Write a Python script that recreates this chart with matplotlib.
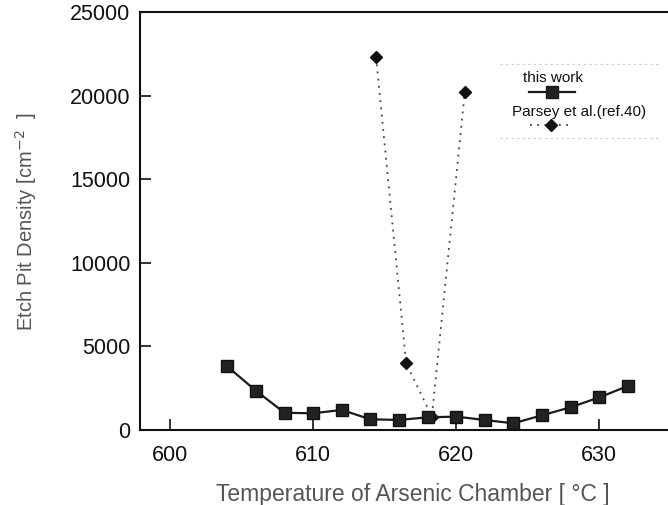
import matplotlib.pyplot as plt

plt.rcParams['font.family'] = ['Liberation Sans', 'DejaVu Sans']

# this work
temp_this = [604, 606, 608, 610, 612, 614, 616, 618, 620, 622, 624, 626, 628, 630, 632]
epd_this = [3800, 2350, 1030, 1000, 1200, 640, 600, 760, 800, 600, 400, 880, 1360, 1950, 2630]

# Parsey et al. (ref.40)
temp_parsey = [614.4, 616.5, 618.3, 620.6]
epd_parsey = [22300, 4000, 800, 20200]

fig = plt.figure(figsize=(6.68, 5.05), dpi=100)
ax = fig.add_axes([0.2096, 0.1485, 0.816, 0.8277])

ax.plot(temp_parsey, epd_parsey, linestyle=(0, (1, 3)), color='#444444', linewidth=1.3,
        marker='D', markersize=6.5, markerfacecolor='#111111', markeredgecolor='#111111', zorder=2)
ax.plot(temp_this, epd_this, '-', color='#1a1a1a', linewidth=1.6,
        marker='s', markersize=9, markerfacecolor='#222222', markeredgecolor='#111111', zorder=3)

ax.set_xlim(597.9, 636)
ax.set_ylim(0, 25000)
ax.set_xticks([600, 610, 620, 630])
ax.set_yticks([0, 5000, 10000, 15000, 20000, 25000])
ax.tick_params(direction='in', length=8, width=1.2, labelsize=15.5, colors='#111111')
ax.tick_params(axis='x', pad=11)
ax.tick_params(axis='y', pad=7)
for lbl in ax.get_xticklabels() + ax.get_yticklabels():
    lbl.set_fontweight('medium')
for s in ax.spines.values():
    s.set_linewidth(1.5)
    s.set_color('#111111')

ax.set_xlabel('Temperature of Arsenic Chamber [ °C ]', fontsize=16.5, color='#555555', labelpad=12)
ax.set_ylabel('Etch Pit Density [cm$^{-2}$  ]', fontsize=14.5, color='#555555', labelpad=22)

# hand-drawn legend box
tr = ax.transAxes
ax.plot([0.66, 0.954], [0.876, 0.876], transform=tr, color='#cccccc', linestyle=(0, (2, 3)), linewidth=0.8)
ax.plot([0.66, 0.954], [0.699, 0.699], transform=tr, color='#cccccc', linestyle=(0, (2, 3)), linewidth=0.8)
ax.text(0.757, 0.842, 'this work', transform=tr, ha='center', va='center', fontsize=11, color='#111111')
ax.plot([0.714, 0.756, 0.798], [0.809, 0.809, 0.809], transform=tr, color='#1a1a1a', linewidth=1.6,
        marker='s', markersize=9, markevery=[1], markerfacecolor='#222222')
ax.text(0.806, 0.761, 'Parsey et al.(ref.40)', transform=tr, ha='center', va='center', fontsize=11, color='#111111')
ax.plot([0.716, 0.754, 0.793], [0.730, 0.730, 0.730], transform=tr, color='#444444',
        linestyle=(0, (1, 3)), linewidth=1.3, marker='D', markersize=6, markevery=[1],
        markerfacecolor='#111111', markeredgecolor='#111111')

fig.savefig('out.png', dpi=100)
